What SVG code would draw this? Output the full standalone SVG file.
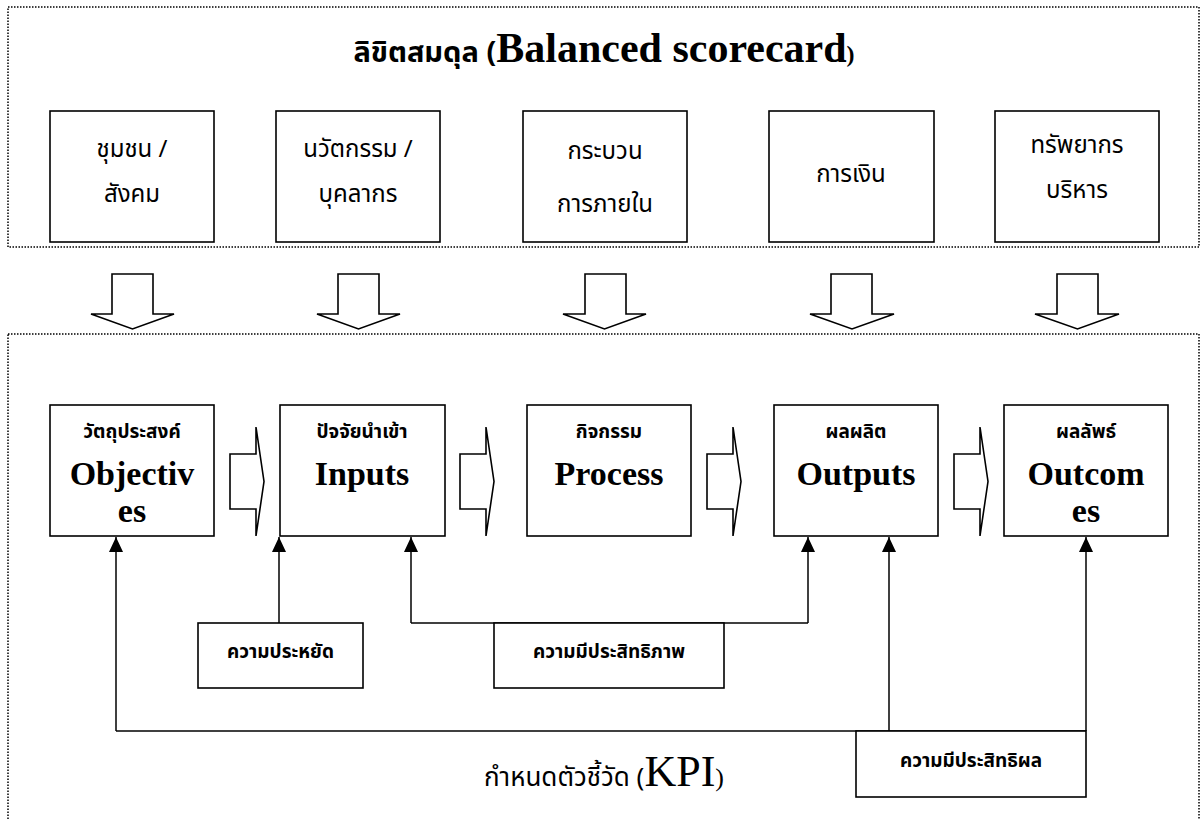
<svg xmlns="http://www.w3.org/2000/svg" width="1200" height="820" viewBox="0 0 1200 820">
<style>
.bg{fill:#fff}
.dot{fill:none;stroke:#000;stroke-width:1.5;stroke-dasharray:1.5 1.5}
.box{fill:#fff;stroke:#000;stroke-width:1.6}
.blk{fill:#fff;stroke:#000;stroke-width:1.6;stroke-linejoin:miter}
.ln{fill:none;stroke:#000;stroke-width:1.5}
.th{font-family:"Noto Sans Thai","Loma","Garuda","Norasi","Tlwg Typo","DejaVu Sans",sans-serif;fill:#000}
.thr{font-size:24px}
.thb{font-size:19px;font-weight:bold}
.en{font-family:"Liberation Serif","Times New Roman",serif;font-weight:bold;font-size:34px;fill:#000}
</style>
<defs>
<marker id="ah" markerUnits="userSpaceOnUse" markerWidth="16" markerHeight="15" refX="15" refY="7" orient="auto">
<path d="M0,0 L15,7 L0,14 Z" fill="#000"/>
</marker>
</defs>
<rect class="bg" x="0" y="0" width="1200" height="820"/>

<g id="frame-top">
<rect class="dot" x="8" y="7" width="1191" height="240"/>
<text class="th" x="604" y="62" text-anchor="middle"><tspan font-size="29" font-weight="bold">ลิขิตสมดุล (</tspan><tspan font-family="Liberation Serif" font-weight="bold" font-size="42">Balanced scorecard</tspan><tspan font-family="Liberation Serif" font-weight="bold" font-size="24">)</tspan></text>
</g>

<g id="frame-bottom">
<rect class="dot" x="8" y="334" width="1191" height="520"/>
<text class="th" x="604" y="786" text-anchor="middle"><tspan font-size="26">กำหนดตัวชี้วัด (</tspan><tspan font-family="Liberation Serif" font-size="44">KPI</tspan><tspan font-family="Liberation Serif" font-size="26">)</tspan></text>
</g>

<g id="p-community">
<rect class="box" x="50" y="111" width="164" height="131"/>
<text class="th thr" x="132" y="157" text-anchor="middle">ชุมชน /</text>
<text class="th thr" x="132" y="202" text-anchor="middle">สังคม</text>
</g>
<g id="p-innovation">
<rect class="box" x="276" y="111" width="164" height="131"/>
<text class="th thr" x="358" y="157" text-anchor="middle">นวัตกรรม /</text>
<text class="th thr" x="358" y="202" text-anchor="middle">บุคลากร</text>
</g>
<g id="p-process">
<rect class="box" x="523" y="111" width="164" height="131"/>
<text class="th thr" x="605" y="159" text-anchor="middle">กระบวน</text>
<text class="th thr" x="605" y="212" text-anchor="middle">การภายใน</text>
</g>
<g id="p-finance">
<rect class="box" x="769" y="111" width="165" height="131"/>
<text class="th thr" x="851" y="182" text-anchor="middle">การเงิน</text>
</g>
<g id="p-resources">
<rect class="box" x="995" y="111" width="164" height="131"/>
<text class="th thr" x="1077" y="153" text-anchor="middle">ทรัพยากร</text>
<text class="th thr" x="1077" y="198" text-anchor="middle">บริหาร</text>
</g>

<g id="down-arrows">
<polygon class="blk" points="112,274 153,274 153,314 174,314 132.5,329 91,314 112,314"/>
<polygon class="blk" points="338,274 379,274 379,314 400,314 358.5,329 317,314 338,314"/>
<polygon class="blk" points="585,274 626,274 626,314 646,314 604.5,329 563,314 585,314"/>
<polygon class="blk" points="831,274 872,274 872,314 894,314 852,329 810,314 831,314"/>
<polygon class="blk" points="1057,274 1098,274 1098,314 1119,314 1077.5,329 1035,314 1057,314"/>
</g>

<g id="n-objectives">
<rect class="box" x="50" y="405" width="164" height="131"/>
<text class="th thb" x="132" y="438" text-anchor="middle">วัตถุประสงค์</text>
<text class="en" text-anchor="middle"><tspan x="132" y="485">Objectiv</tspan><tspan x="132" y="522">es</tspan></text>
</g>
<g id="n-inputs">
<rect class="box" x="280" y="405" width="165" height="131"/>
<text class="th thb" x="362" y="438" text-anchor="middle">ปัจจัยนำเข้า</text>
<text class="en" x="362" y="485" text-anchor="middle">Inputs</text>
</g>
<g id="n-process">
<rect class="box" x="527" y="405" width="164" height="131"/>
<text class="th thb" x="609" y="438" text-anchor="middle">กิจกรรม</text>
<text class="en" x="609" y="485" text-anchor="middle">Process</text>
</g>
<g id="n-outputs">
<rect class="box" x="774" y="405" width="164" height="131"/>
<text class="th thb" x="856" y="438" text-anchor="middle">ผลผลิต</text>
<text class="en" x="856" y="485" text-anchor="middle">Outputs</text>
</g>
<g id="n-outcomes">
<rect class="box" x="1004" y="405" width="164" height="131"/>
<text class="th thb" x="1086" y="438" text-anchor="middle">ผลลัพธ์</text>
<text class="en" text-anchor="middle"><tspan x="1086" y="485">Outcom</tspan><tspan x="1086" y="522">es</tspan></text>
</g>

<g id="flow-arrows">
<polygon class="blk" points="230,454 256,454 256,427 264,481.5 256,536 256,509 230,509"/>
<polygon class="blk" points="460,454 486,454 486,427 494,481.5 486,536 486,509 460,509"/>
<polygon class="blk" points="707,454 733,454 733,427 741,481.5 733,536 733,509 707,509"/>
<polygon class="blk" points="954,454 980,454 980,427 988,481.5 980,536 980,509 954,509"/>
</g>

<g id="connectors">
<path class="ln" d="M279,623 V537" marker-end="url(#ah)"/>
<path class="ln" d="M411,623 H808"/>
<path class="ln" d="M411,623 V537" marker-end="url(#ah)"/>
<path class="ln" d="M808,623 V537" marker-end="url(#ah)"/>
<path class="ln" d="M116,731 H1086"/>
<path class="ln" d="M116,731 V537" marker-end="url(#ah)"/>
<path class="ln" d="M889,731 V537" marker-end="url(#ah)"/>
<path class="ln" d="M1086,731 V537" marker-end="url(#ah)"/>
</g>

<g id="k-economy">
<rect class="box" x="198" y="623" width="165" height="65"/>
<text class="th thb" x="280.5" y="658" text-anchor="middle">ความประหยัด</text>
</g>
<g id="k-efficiency">
<rect class="box" x="494" y="623" width="230" height="65"/>
<text class="th thb" x="609" y="658" text-anchor="middle">ความมีประสิทธิภาพ</text>
</g>
<g id="k-effectiveness">
<rect class="box" x="856" y="731" width="230" height="66"/>
<text class="th thb" x="971" y="767" text-anchor="middle">ความมีประสิทธิผล</text>
</g>
</svg>
